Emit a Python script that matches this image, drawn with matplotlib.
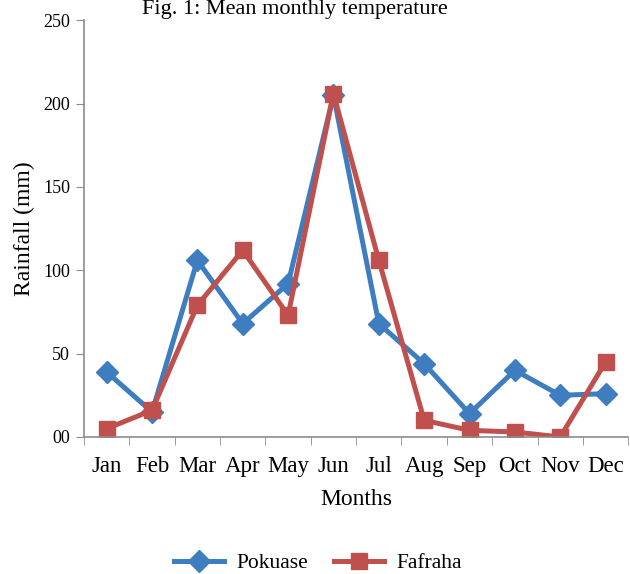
import numpy as np
import matplotlib.pyplot as plt

plt.rcParams['font.family'] = ['Liberation Serif', 'DejaVu Serif']

months = ['Jan', 'Feb', 'Mar', 'Apr', 'May', 'Jun', 'Jul', 'Aug', 'Sep', 'Oct', 'Nov', 'Dec']
pokuase = [39, 15, 106, 68, 92, 205, 68, 44, 14, 40, 25, 26]
fafraha = [5, 16, 79, 112, 73, 206, 106, 10, 4, 3, 0, 45]
yticks = [0, 50, 100, 150, 200, 250]
ylabels = ['00', '50', '100', '150', '200', '250']

fig = plt.figure(figsize=(6.3, 5.74), dpi=100)
ax = fig.add_axes([0.1333, 0.2387, 0.864, 0.726])

x = np.arange(len(months))
ax.plot(x, pokuase, color='#3D7DC0', lw=3.6, marker='D', ms=11, label='Pokuase')
ax.plot(x, fafraha, color='#C0504D', lw=3.6, marker='s', ms=12, label='Fafraha')

ax.set_xlim(-0.5, 11.5)
ax.set_ylim(0, 250)
ax.set_yticks(yticks)
ax.set_yticklabels(ylabels, fontsize=13)
ax.set_xticks(x)
ax.set_xticklabels(months, fontsize=16.5)
ax.set_xticks(np.arange(-0.5, 12, 1), minor=True)
ax.tick_params(axis='x', which='major', length=0, pad=14)
ax.tick_params(axis='x', which='minor', length=6, color='#8c8c8c', direction='out')
ax.tick_params(axis='y', length=6, color='#8c8c8c', direction='out', pad=4)

for s in ['top', 'right']:
    ax.spines[s].set_visible(False)
for s in ['left', 'bottom']:
    ax.spines[s].set_color('#8c8c8c')
    ax.spines[s].set_linewidth(1.2)

ax.set_xlabel('Months', fontsize=17, labelpad=8)
ax.set_ylabel('Rainfall (mm)', fontsize=17, labelpad=6)

fig.text(0.468, 1.0, 'Fig. 1: Mean monthly temperature', ha='center', va='top', fontsize=16)

fig.legend(loc='center', bbox_to_anchor=(0.505, 0.019), ncol=2, frameon=False,
           fontsize=15.5, handlelength=2.3, handletextpad=0.6, columnspacing=1.2)

fig.savefig('out.png', dpi=100)
